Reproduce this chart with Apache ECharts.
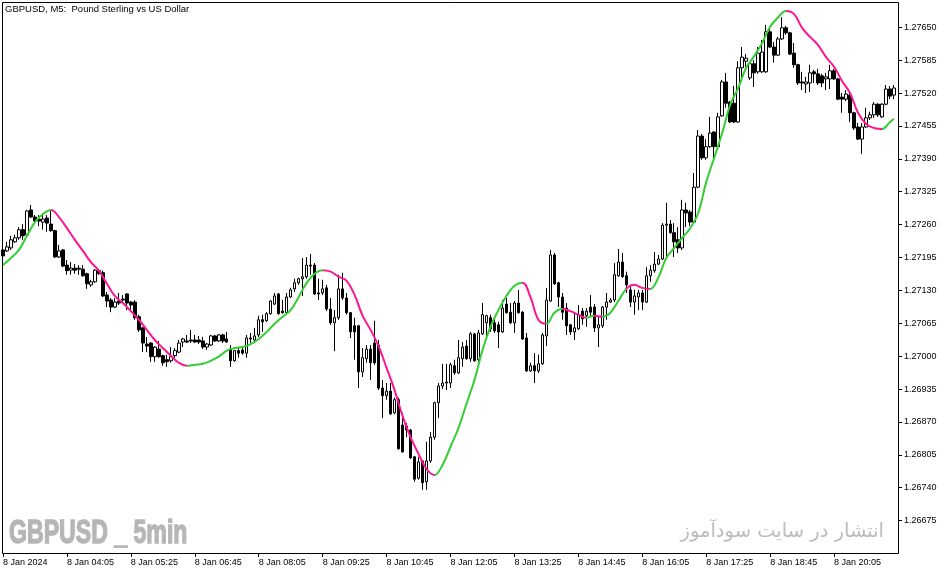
<!DOCTYPE html>
<html><head><meta charset="utf-8">
<script src="https://cdn.jsdelivr.net/npm/echarts@6/dist/echarts.min.js"></script>
<style>html,body{margin:0;padding:0;background:#fff}#c{width:951px;height:574px}</style>
</head><body><div id="c"></div>
<script>
const chartTitle = 'GBPUSD, M5:  Pound Sterling vs US Dollar';
const xTickLabels = ['8 Jan 2024','8 Jan 04:05','8 Jan 05:25','8 Jan 06:45','8 Jan 08:05','8 Jan 09:25','8 Jan 10:45','8 Jan 12:05','8 Jan 13:25','8 Jan 14:45','8 Jan 16:05','8 Jan 17:25','8 Jan 18:45','8 Jan 20:05'];
const yTickValues = [1.26675,1.26740,1.26805,1.26870,1.26935,1.27000,1.27065,1.27130,1.27195,1.27260,1.27325,1.27390,1.27455,1.27520,1.27585,1.27650];

const open = [
1.27210,1.27208,1.27214,1.27226,1.27234,1.27250,1.27240,1.27289,1.27275,1.27271,1.27265,1.27273,1.27261,1.27248,1.27196,1.27210,
1.27180,1.27170,1.27174,1.27174,1.27172,1.27163,1.27141,1.27147,1.27169,1.27165,1.27121,1.27111,1.27097,1.27109,1.27113,1.27123,
1.27107,1.27107,1.27078,1.27056,1.27024,1.27026,1.26999,1.27014,1.27001,1.26993,1.26991,1.27001,1.27008,1.27028,1.27030,1.27032,
1.27032,1.27032,1.27030,1.27018,1.27022,1.27040,1.27030,1.27042,1.27034,1.27014,1.26991,1.27011,1.27012,1.27006,1.27036,1.27032,
1.27042,1.27072,1.27070,1.27084,1.27103,1.27123,1.27089,1.27086,1.27117,1.27133,1.27145,1.27153,1.27157,1.27180,1.27180,1.27125,
1.27125,1.27135,1.27093,1.27066,1.27076,1.27133,1.27115,1.27086,1.27060,1.27060,1.26969,1.26995,1.27014,1.27026,1.27022,1.26937,
1.26922,1.26931,1.26888,1.26914,1.26864,1.26862,1.26854,1.26801,1.26759,1.26793,1.26752,1.26793,1.26840,1.26908,1.26941,1.26947,
1.26947,1.26981,1.26967,1.26995,1.27020,1.26995,1.27044,1.26993,1.27044,1.27066,1.27076,1.27066,1.27062,1.27048,1.27103,1.27087,
1.27066,1.27105,1.27087,1.27036,1.26971,1.26981,1.26971,1.26985,1.27040,1.27109,1.27200,1.27145,1.27117,1.27095,1.27062,1.27048,
1.27054,1.27089,1.27080,1.27097,1.27097,1.27056,1.27060,1.27097,1.27107,1.27111,1.27159,1.27186,1.27159,1.27131,1.27107,1.27117,
1.27125,1.27107,1.27159,1.27169,1.27182,1.27192,1.27259,1.27261,1.27244,1.27230,1.27214,1.27289,1.27285,1.27265,1.27334,1.27435,
1.27392,1.27414,1.27443,1.27414,1.27475,1.27542,1.27502,1.27500,1.27463,1.27570,1.27583,1.27550,1.27578,1.27562,1.27562,1.27562,
1.27641,1.27611,1.27595,1.27627,1.27649,1.27639,1.27599,1.27576,1.27542,1.27538,1.27540,1.27562,1.27558,1.27554,1.27548,1.27548,
1.27564,1.27548,1.27512,1.27508,1.27516,1.27481,1.27453,1.27429,1.27453,1.27471,1.27477,1.27498,1.27473,1.27498,1.27528,1.27516];

const close = [
1.27198,1.27216,1.27230,1.27234,1.27250,1.27238,1.27287,1.27275,1.27267,1.27267,1.27271,1.27263,1.27248,1.27196,1.27208,1.27178,
1.27169,1.27174,1.27170,1.27172,1.27159,1.27143,1.27147,1.27170,1.27163,1.27119,1.27109,1.27097,1.27107,1.27105,1.27111,1.27105,
1.27101,1.27076,1.27052,1.27026,1.27020,1.26999,1.27018,1.26999,1.26987,1.26989,1.26999,1.27011,1.27026,1.27034,1.27028,1.27030,
1.27028,1.27028,1.27018,1.27024,1.27040,1.27030,1.27042,1.27030,1.27028,1.26991,1.27011,1.27006,1.27006,1.27036,1.27034,1.27040,
1.27072,1.27068,1.27084,1.27109,1.27119,1.27084,1.27086,1.27117,1.27131,1.27145,1.27153,1.27157,1.27180,1.27178,1.27123,1.27123,
1.27133,1.27093,1.27066,1.27076,1.27133,1.27115,1.27086,1.27048,1.27048,1.26969,1.26997,1.27014,1.26987,1.26987,1.26937,1.26922,
1.26931,1.26886,1.26914,1.26817,1.26811,1.26854,1.26799,1.26757,1.26791,1.26750,1.26793,1.26840,1.26908,1.26941,1.26947,1.26949,
1.26983,1.26967,1.26997,1.27018,1.26995,1.27044,1.26991,1.27046,1.27082,1.27080,1.27054,1.27050,1.27048,1.27095,1.27086,1.27066,
1.27105,1.27086,1.27034,1.26971,1.26981,1.26971,1.26985,1.27042,1.27111,1.27200,1.27143,1.27117,1.27087,1.27060,1.27048,1.27056,
1.27082,1.27074,1.27089,1.27087,1.27056,1.27062,1.27097,1.27107,1.27111,1.27161,1.27186,1.27157,1.27141,1.27107,1.27119,1.27125,
1.27107,1.27159,1.27170,1.27182,1.27192,1.27259,1.27261,1.27244,1.27226,1.27214,1.27289,1.27283,1.27265,1.27334,1.27435,1.27392,
1.27414,1.27441,1.27414,1.27473,1.27542,1.27500,1.27463,1.27463,1.27570,1.27591,1.27589,1.27578,1.27560,1.27599,1.27601,1.27641,
1.27611,1.27595,1.27627,1.27649,1.27639,1.27597,1.27576,1.27540,1.27540,1.27542,1.27560,1.27558,1.27540,1.27540,1.27552,1.27564,
1.27548,1.27508,1.27508,1.27518,1.27481,1.27451,1.27429,1.27453,1.27471,1.27477,1.27498,1.27477,1.27498,1.27528,1.27514,1.27530];

const low = [
1.27196,1.27206,1.27210,1.27224,1.27230,1.27230,1.27238,1.27273,1.27265,1.27257,1.27250,1.27246,1.27246,1.27194,1.27194,1.27176,
1.27161,1.27161,1.27163,1.27161,1.27157,1.27133,1.27137,1.27145,1.27161,1.27117,1.27097,1.27087,1.27095,1.27101,1.27107,1.27091,
1.27091,1.27072,1.27048,1.27008,1.27008,1.26989,1.26989,1.26997,1.26981,1.26979,1.26987,1.26997,1.27006,1.27018,1.27026,1.27026,
1.27026,1.27024,1.27014,1.27012,1.27020,1.27028,1.27028,1.27026,1.27026,1.26979,1.26989,1.26997,1.27003,1.26997,1.27026,1.27028,
1.27038,1.27048,1.27068,1.27082,1.27101,1.27082,1.27084,1.27084,1.27115,1.27127,1.27141,1.27119,1.27153,1.27161,1.27121,1.27111,
1.27121,1.27089,1.27062,1.27010,1.27072,1.27111,1.27082,1.27036,1.26993,1.26937,1.26959,1.26987,1.26953,1.26983,1.26933,1.26878,
1.26914,1.26884,1.26886,1.26815,1.26809,1.26840,1.26797,1.26752,1.26756,1.26736,1.26736,1.26789,1.26835,1.26878,1.26935,1.26933,
1.26937,1.26963,1.26965,1.26979,1.26993,1.26989,1.26989,1.26989,1.27042,1.27038,1.27048,1.27046,1.27016,1.27046,1.27084,1.27064,
1.27046,1.27084,1.27032,1.26969,1.26969,1.26947,1.26967,1.26983,1.27020,1.27107,1.27141,1.27097,1.27072,1.27042,1.27042,1.27032,
1.27052,1.27062,1.27058,1.27078,1.27048,1.27018,1.27056,1.27072,1.27105,1.27107,1.27157,1.27155,1.27125,1.27097,1.27082,1.27091,
1.27091,1.27105,1.27147,1.27165,1.27180,1.27190,1.27196,1.27242,1.27196,1.27204,1.27210,1.27255,1.27257,1.27263,1.27332,1.27388,
1.27388,1.27412,1.27388,1.27412,1.27473,1.27491,1.27461,1.27461,1.27461,1.27546,1.27572,1.27546,1.27532,1.27558,1.27560,1.27560,
1.27609,1.27580,1.27593,1.27625,1.27635,1.27595,1.27570,1.27536,1.27526,1.27520,1.27522,1.27540,1.27536,1.27532,1.27526,1.27528,
1.27546,1.27506,1.27481,1.27504,1.27463,1.27447,1.27427,1.27400,1.27451,1.27467,1.27471,1.27473,1.27471,1.27496,1.27508,1.27508];

const high = [
1.27214,1.27226,1.27238,1.27240,1.27255,1.27261,1.27289,1.27299,1.27279,1.27279,1.27283,1.27279,1.27289,1.27250,1.27220,1.27212,
1.27190,1.27186,1.27182,1.27180,1.27180,1.27165,1.27151,1.27172,1.27172,1.27169,1.27127,1.27115,1.27115,1.27125,1.27121,1.27125,
1.27109,1.27111,1.27082,1.27058,1.27038,1.27028,1.27020,1.27030,1.27003,1.27003,1.27018,1.27016,1.27032,1.27036,1.27042,1.27052,
1.27042,1.27040,1.27038,1.27026,1.27042,1.27042,1.27044,1.27044,1.27048,1.27022,1.27012,1.27016,1.27018,1.27042,1.27046,1.27056,
1.27080,1.27082,1.27087,1.27111,1.27125,1.27125,1.27111,1.27125,1.27135,1.27153,1.27155,1.27194,1.27196,1.27202,1.27184,1.27153,
1.27151,1.27141,1.27115,1.27091,1.27161,1.27165,1.27125,1.27087,1.27076,1.27062,1.27016,1.27022,1.27022,1.27070,1.27032,1.26953,
1.26947,1.26947,1.26918,1.26918,1.26888,1.26868,1.26856,1.26803,1.26801,1.26795,1.26831,1.26850,1.26910,1.26947,1.26985,1.26985,
1.26987,1.26993,1.27032,1.27028,1.27032,1.27048,1.27046,1.27052,1.27105,1.27082,1.27082,1.27072,1.27068,1.27111,1.27115,1.27105,
1.27109,1.27131,1.27089,1.27046,1.26987,1.27006,1.27003,1.27046,1.27135,1.27210,1.27204,1.27147,1.27125,1.27105,1.27064,1.27086,
1.27101,1.27095,1.27095,1.27121,1.27103,1.27078,1.27099,1.27125,1.27115,1.27184,1.27212,1.27204,1.27167,1.27141,1.27131,1.27131,
1.27131,1.27176,1.27180,1.27206,1.27200,1.27263,1.27303,1.27269,1.27263,1.27255,1.27309,1.27303,1.27289,1.27362,1.27447,1.27439,
1.27429,1.27473,1.27445,1.27481,1.27546,1.27560,1.27504,1.27534,1.27583,1.27611,1.27597,1.27580,1.27585,1.27611,1.27625,1.27655,
1.27651,1.27621,1.27631,1.27670,1.27653,1.27641,1.27619,1.27578,1.27562,1.27552,1.27576,1.27566,1.27568,1.27558,1.27560,1.27576,
1.27568,1.27550,1.27520,1.27526,1.27520,1.27483,1.27461,1.27461,1.27491,1.27483,1.27502,1.27500,1.27500,1.27536,1.27534,1.27536];

const maValues = [
1.27180,null,1.27194,null,1.27210,null,1.27238,null,1.27265,null,1.27281,null,1.27289,null,1.27275,null,
1.27253,null,1.27230,null,1.27208,null,1.27186,null,1.27169,null,1.27143,null,1.27119,null,1.27105,null,
1.27089,null,1.27072,null,1.27052,null,1.27032,null,1.27016,null,1.27001,null,1.26987,null,1.26981,null,
1.26983,null,1.26985,null,1.26991,null,1.26999,null,1.27011,null,1.27016,null,1.27018,null,1.27024,null,
1.27034,null,1.27048,null,1.27064,null,1.27078,null,1.27091,null,1.27117,null,1.27145,null,1.27163,null,
1.27170,null,1.27167,null,1.27157,null,1.27149,null,1.27121,null,1.27080,null,1.27052,null,1.27020,null,
1.26977,null,1.26933,null,1.26882,null,1.26840,null,1.26807,null,1.26777,null,1.26765,null,1.26785,null,
1.26821,null,1.26858,null,1.26906,null,1.26953,null,1.27012,null,1.27058,null,1.27091,null,1.27119,null,
1.27139,null,1.27145,null,1.27117,null,1.27072,null,1.27064,null,1.27086,null,1.27093,null,1.27089,null,
1.27082,null,1.27076,null,1.27080,null,1.27078,null,1.27086,null,1.27109,null,1.27133,null,1.27141,null,
1.27135,null,1.27133,null,1.27155,null,1.27194,null,1.27214,null,1.27234,null,1.27253,null,1.27283,null,
1.27344,null,1.27392,null,1.27441,null,1.27497,null,1.27530,null,1.27570,null,1.27593,null,1.27619,null,
1.27651,null,1.27670,null,1.27682,null,1.27676,null,1.27649,null,1.27631,null,1.27615,null,1.27591,null,
1.27572,null,1.27544,null,1.27520,null,1.27481,null,1.27459,null,1.27451,null,1.27449,null,1.27463,1.27469];

// colour sections of the indicator line (candle index ranges): rising = green, falling = pink
const maRising = [[0,12],[46,80],[108,130],[136,140],[146,148],[150,156],[162,196],[220,223]];
const maFalling = [[12,46],[80,108],[130,136],[140,146],[148,150],[156,162],[196,220]];

const GREEN = '#32cd32', PINK = '#ff1493';
const categories = open.map((_, i) => i);
const candleData = open.map((o, i) => [o, close[i], low[i], high[i]]);
const pieces = [];
maRising.forEach(r => pieces.push({gte: r[0], lte: r[1], color: GREEN}));
maFalling.forEach(r => pieces.push({gt: r[0], lt: r[1], color: PINK}));

const chart = echarts.init(document.getElementById('c'), null, {renderer: 'canvas'});
const FONT = 'Liberation Sans';
chart.setOption({
  animation: false,
  backgroundColor: '#ffffff',
  grid: {left: 0, right: 55, top: 2, bottom: 21, containLabel: false},
  xAxis: {
    type: 'category', data: categories, boundaryGap: true,
    axisLine: {show: false},
    axisTick: {show: true, alignWithLabel: true, length: 4, lineStyle: {color: '#000'},
      interval: (i) => i % 16 === 0},
    axisLabel: {interval: (i) => i % 16 === 0, align: 'left', margin: 5, color: '#000',
      fontSize: 9, fontFamily: FONT,
      formatter: (v, i) => (i % 16 === 0 ? (xTickLabels[i / 16] || '') : '')},
    splitLine: {show: false}
  },
  yAxis: {
    type: 'value', position: 'right', offset: 2, min: 1.26611, max: 1.27700,
    axisLine: {show: false},
    axisTick: {show: true, length: 4, customValues: yTickValues, lineStyle: {color: '#000'}},
    axisLabel: {customValues: yTickValues, margin: 6, color: '#000', fontSize: 9, fontFamily: FONT,
      formatter: (v) => v.toFixed(5)},
    splitLine: {show: false}
  },
  visualMap: {show: false, type: 'piecewise', seriesIndex: 1, dimension: 0, pieces: pieces},
  series: [
    {
      type: 'candlestick', data: candleData, barWidth: 3, z: 2,
      itemStyle: {color: '#ffffff', color0: '#000000', borderColor: '#000000', borderColor0: '#000000', borderWidth: 1}
    },
    {
      type: 'line', data: maValues, connectNulls: true, smooth: 0.4, showSymbol: false, z: 3,
      lineStyle: {width: 2}
    }
  ],
  graphic: [
    {type: 'rect', silent: true, z: 100, shape: {x: 2.5, y: 2.5, width: 896, height: 551},
      style: {fill: 'none', stroke: '#000', lineWidth: 1}},
    {type: 'text', silent: true, z: 100, x: 5, y: 9,
      style: {text: chartTitle, font: '9.5px "Liberation Sans"', fill: '#000', textVerticalAlign: 'middle', verticalAlign: 'middle'}},
    {type: 'text', silent: true, z: 1, x: 9, y: 534, scaleX: 0.7,
      style: {text: 'GBPUSD _ 5min', font: 'bold 33px "Liberation Sans"', fill: '#b6b6b6', stroke: '#b6b6b6', lineWidth: 1.4, textVerticalAlign: 'middle', verticalAlign: 'middle'}},
    {type: 'text', silent: true, z: 1, x: 884, y: 532,
      style: {text: 'انتشار در سایت سودآموز', font: '19.5px "DejaVu Sans"', fill: '#bcbcbc', textAlign: 'right', align: 'right', textVerticalAlign: 'middle', verticalAlign: 'middle'}}
  ]
});
</script>
</body></html>
